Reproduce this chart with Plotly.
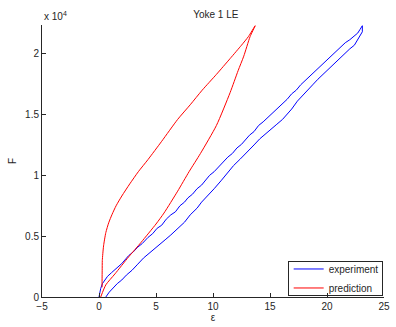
import plotly.graph_objects as go

# experiment loop (strain, force in units of 1e4 N): loading branch then unloading branch
exp_up_eps = [0.0, 0.05, 0.15, 0.3, 0.5, 0.75, 1.1, 1.5, 2.0, 2.6, 3.0, 3.4, 3.8, 4.3, 4.7, 5.1, 5.5,
              5.9, 6.3, 6.7, 7.1, 7.5, 7.8, 8.2, 8.6, 9.0, 9.4, 9.7, 10.1, 10.5, 10.9, 11.3, 11.7,
              12.1, 12.5, 12.8, 13.2, 13.6, 14.0, 14.4, 14.8, 15.2, 15.6, 16.1, 16.5, 16.9, 17.3,
              17.7, 18.1, 18.5, 18.9, 19.3, 19.8, 20.2, 20.6, 21.0, 21.3, 21.6, 22.0, 22.4, 22.7,
              22.9, 23.1]
exp_up_F = [0.0, 0.03, 0.07, 0.11, 0.14, 0.17, 0.20, 0.23, 0.275, 0.34, 0.37, 0.41, 0.44, 0.49, 0.52,
            0.565, 0.59, 0.64, 0.675, 0.70, 0.75, 0.78, 0.815, 0.845, 0.89, 0.92, 0.965, 1.0, 1.03,
            1.07, 1.105, 1.15, 1.18, 1.225, 1.255, 1.29, 1.33, 1.36, 1.41, 1.44, 1.475, 1.51, 1.55,
            1.595, 1.625, 1.67, 1.70, 1.745, 1.78, 1.82, 1.85, 1.89, 1.93, 1.97, 2.0, 2.04, 2.06,
            2.09, 2.115, 2.15, 2.17, 2.20, 2.23]
exp_dn_eps = [23.1, 22.8, 22.4, 22.0, 21.5, 21.0, 20.7, 20.2, 19.7, 19.2, 18.8, 18.4, 17.9, 17.4,
              16.9, 16.5, 16.1, 15.6, 15.1, 14.6, 14.1, 13.6, 13.0, 12.4, 11.8, 11.3, 10.7, 10.1,
              9.5, 9.0, 8.6, 8.0, 7.5, 6.9, 6.3, 5.8, 5.3, 4.8, 4.3, 3.9, 3.4, 2.9, 2.4, 2.0, 1.6,
              1.3, 0.9, 0.6]
exp_dn_F = [2.18, 2.13, 2.07, 2.04, 1.995, 1.955, 1.93, 1.88, 1.84, 1.79, 1.75, 1.71, 1.655, 1.61,
            1.545, 1.50, 1.46, 1.42, 1.38, 1.34, 1.30, 1.25, 1.19, 1.135, 1.08, 1.02, 0.955, 0.89,
            0.83, 0.78, 0.73, 0.675, 0.615, 0.56, 0.51, 0.47, 0.43, 0.39, 0.35, 0.32, 0.27, 0.22,
            0.18, 0.14, 0.11, 0.08, 0.04, 0.0]
exp_eps = exp_up_eps + exp_dn_eps
exp_F = [v * 1e4 for v in exp_up_F + exp_dn_F]

# prediction loop
pred_eps = [0.27, 0.27, 0.28, 0.29, 0.4, 0.6, 0.85, 1.15, 1.5, 2.0, 2.7, 3.45, 4.3, 5.5, 6.9, 8.0,
            9.05, 10.3, 11.5, 12.5, 13.1, 13.7,
            13.25, 12.7, 12.2, 11.5, 10.3, 8.9, 7.9, 6.9, 5.7, 5.0, 3.7, 2.6, 1.4, 0.6, 0.15]
pred_F = [0.08, 0.15, 0.22, 0.30, 0.42, 0.53, 0.61, 0.68, 0.75, 0.83, 0.93, 1.03, 1.13, 1.28, 1.46,
          1.58, 1.70, 1.83, 1.96, 2.07, 2.14, 2.23,
          2.14, 1.98, 1.86, 1.68, 1.41, 1.18, 1.03, 0.87, 0.69, 0.60, 0.45, 0.33, 0.19, 0.10, 0.0]
pred_F = [v * 1e4 for v in pred_F]

x_ticks = [-5, 0, 5, 10, 15, 20, 25]
y_ticks = [0, 5000, 10000, 15000, 20000]
y_ticktext = ["0", "0.5", "1", "1.5", "2"]

font = "Liberation Sans, Arial, Helvetica, sans-serif"
W, H = 396, 327
L, R, T, B = 42, 6, 25, 27
pw, ph = W - L - R, H - T - B


def px_x(p):
    return (p - L) / pw


def px_y(p):
    return (H - B - p) / ph


fig = go.Figure()
fig.add_trace(go.Scatter(x=exp_eps, y=exp_F, mode="lines", name="experiment",
                         line=dict(color="#0000ff", width=1)))
fig.add_trace(go.Scatter(x=pred_eps, y=pred_F, mode="lines", name="prediction",
                         line=dict(color="#ff0000", width=1, shape="spline", smoothing=0.6)))

fig.update_layout(
    width=W, height=H,
    margin=dict(l=L, r=R, t=T, b=B),
    paper_bgcolor="white", plot_bgcolor="white",
    font=dict(family=font, size=10, color="#262626"),
    title=dict(text="Yoke 1 LE", x=0.545, xanchor="center", y=1 - 14 / H, yanchor="middle",
               font=dict(size=10, color="#262626")),
    xaxis=dict(range=[-5, 25], tickvals=x_ticks, ticks="inside", ticklen=4, tickcolor="#262626",
               showline=True, linecolor="#262626", linewidth=1, showgrid=False, zeroline=False,
               title=dict(text="ε", standoff=2, font=dict(size=10))),
    yaxis=dict(range=[0, 22360], tickvals=y_ticks, ticktext=y_ticktext, ticks="inside", ticklen=4,
               tickcolor="#262626", showline=True, linecolor="#262626", linewidth=1,
               showgrid=False, zeroline=False,
               title=dict(text="F", standoff=6, font=dict(size=10))),
    legend=dict(x=px_x(293), xanchor="left", y=px_y(257), yanchor="top",
                borderwidth=0, bgcolor="rgba(0,0,0,0)",
                font=dict(size=10), itemwidth=30, tracegroupgap=0),
    showlegend=True,
)
# legend frame (empty annotation box)
fig.add_annotation(x=px_x(292), xref="paper", y=px_y(299), yref="paper",
                   xanchor="left", yanchor="bottom", text=" ", showarrow=False,
                   width=93, height=33, borderwidth=1, bordercolor="#262626",
                   bgcolor="rgba(0,0,0,0)", borderpad=0)
fig.add_annotation(x=0, xref="paper", y=1, yref="paper", xanchor="left", yanchor="bottom",
                   text="x 10<sup>4</sup>", showarrow=False, yshift=1, font=dict(size=10))

fig.write_html("out.html")
